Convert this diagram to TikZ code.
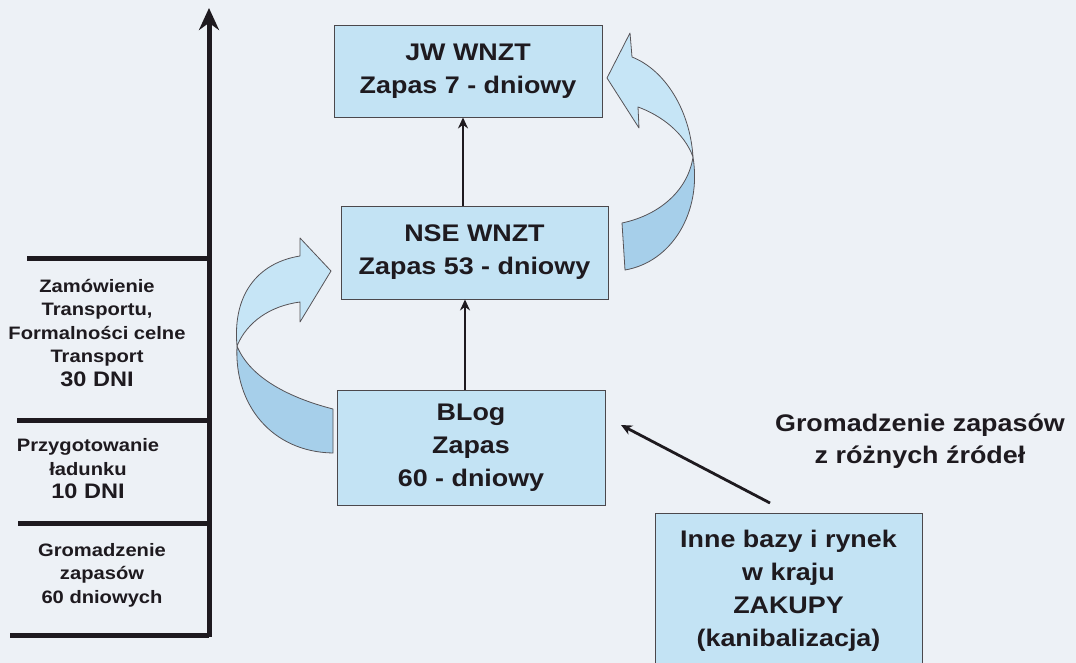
\documentclass[tikz,border=0pt]{standalone}
\usepackage{fontspec}
\setmainfont{Liberation Sans}[FakeStretch=1.12]
\usetikzlibrary{arrows.meta}
\definecolor{bg}{HTML}{EDF1F6}
\definecolor{boxblue}{HTML}{C3E3F4}
\definecolor{arrlight}{HTML}{C6E5F6}
\definecolor{arrdark}{HTML}{A6CFEA}
\definecolor{ink}{HTML}{1E1A1F}
\begin{document}
\begin{tikzpicture}[x=1pt,y=-1pt,
  box/.style={draw=ink!80,line width=0.9pt,fill=boxblue,align=center,inner sep=0pt,text=ink,
              font=\bfseries\fontsize{24}{33}\selectfont},
  conn/.style={draw=ink,line width=2.8pt,-{Stealth[length=11pt,width=10pt]}},
  rulebar/.style={draw=ink,line width=5pt},
  lab/.style={align=center,inner sep=0pt,text=ink,font=\bfseries\fontsize{18}{23.5}\selectfont},
  biglab/.style={align=center,inner sep=0pt,text=ink,font=\bfseries\fontsize{24}{32}\selectfont},
  band/.style={draw=ink!75,line width=0.8pt,line join=round}]
\fill[bg] (0,0) rectangle (1076,663);
\useasboundingbox (0,0) rectangle (1076,663);

% time axis
\coordinate (abot) at (209,637);
\coordinate (atop) at (209,8);
\coordinate (r1) at (27,258);
\coordinate (r2) at (17,420);
\coordinate (r3) at (18,523);
\coordinate (r4) at (10,635);
\draw[rulebar] (r1) -- (r1 -| abot);
\draw[rulebar] (r2) -- (r2 -| abot);
\draw[rulebar] (r3) -- (r3 -| abot);
\draw[rulebar] (r4) -- (r4 -| abot);
\draw[draw=ink,line width=5pt,-{Stealth[length=22pt,width=20pt]}] (abot) -- (atop);

% left labels
\node[lab] (l1) at (97,333) {Zamówienie\\Transportu,\\Formalności celne\\Transport\\{\fontsize{21}{24}\selectfont 30 DNI}};
\node[lab] (l2) at (88,469) {Przygotowanie\\ładunku\\{\fontsize{21}{24}\selectfont 10 DNI}};
\node[lab] (l3) at (102,575) {Gromadzenie\\zapasów\\60 dniowych};

% curved block arrows
\path[band,fill=arrdark] (333,409) .. controls (290,398) and (250,378) .. (237,346)
  .. controls (234,405) and (272,452) .. (333,453) -- cycle;
\path[band,fill=arrlight] (237,346) .. controls (232,290) and (262,262) .. (300,256)
  -- (300,238) -- (331,271) -- (300,322) -- (300,302)
  .. controls (270,306) and (247,322) .. (237,346) -- cycle;

\path[band,fill=arrdark] (622,223) .. controls (660,215) and (688,190) .. (693,157)
  .. controls (702,212) and (672,262) .. (625,270) -- cycle;
\path[band,fill=arrlight] (693,157) .. controls (690,110) and (665,70) .. (632,57)
  -- (630,33) -- (607,78) -- (639,128) -- (638,107)
  .. controls (660,115) and (684,132) .. (693,157) -- cycle;

% boxes
\node[box,minimum width=268pt,minimum height=92pt] (jw) at (468,71) {JW WNZT\\Zapas 7 - dniowy};
\node[box,minimum width=267pt,minimum height=93pt] (nse) at (474.5,252.5) {NSE WNZT\\Zapas 53 - dniowy};
\node[box,minimum width=268pt,minimum height=115pt] (blog) at (471,448) {BLog\\Zapas\\60 - dniowy};
\node[box,minimum width=267pt,minimum height=155pt] (inne) at (788.5,590.5) {Inne bazy i rynek\\w kraju\\ZAKUPY\\(kanibalizacja)};

% connectors
\coordinate (x1) at (463,0);
\coordinate (x2) at (465,0);
\draw[conn] (nse.north -| x1) -- (jw.south -| x1);
\draw[conn] (blog.north -| x2) -- (nse.south -| x2);
\coordinate (gt) at (770,503);
\coordinate (gh) at (621,425);
\draw[conn] (gt) -- (gh);

\node[biglab] (glab) at (920,441) {Gromadzenie zapasów\\z różnych źródeł};
\end{tikzpicture}
\end{document}
